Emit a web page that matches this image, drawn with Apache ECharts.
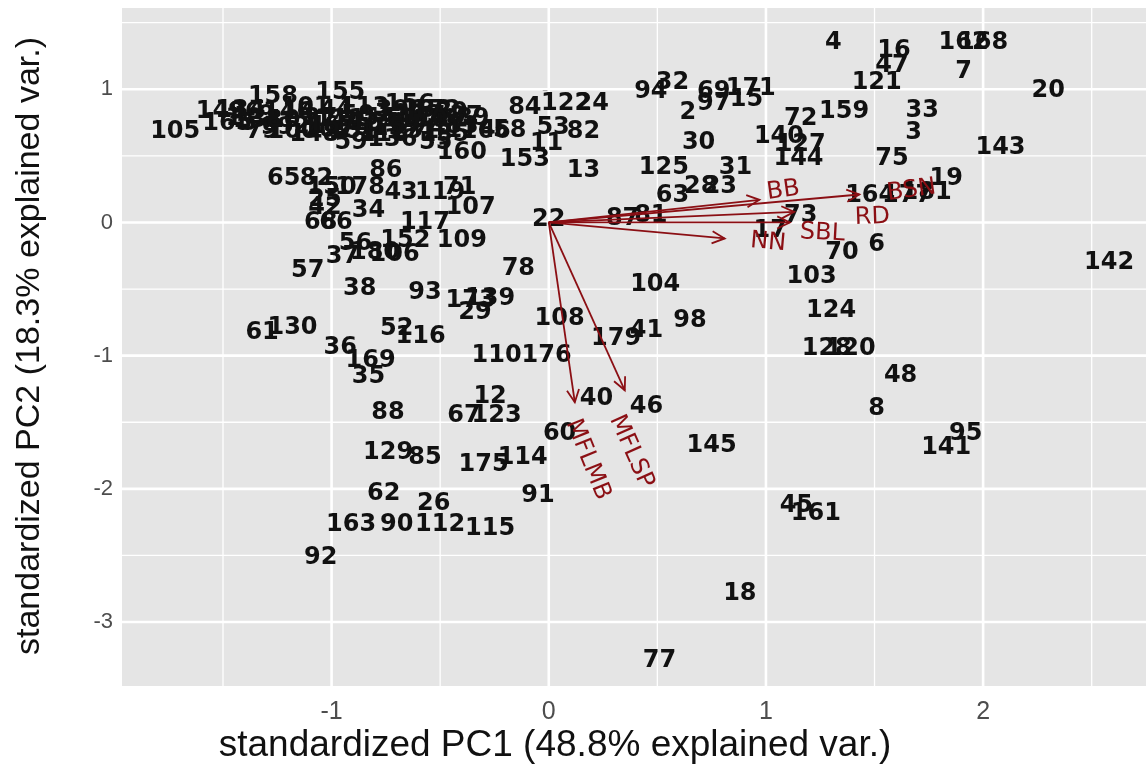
<!DOCTYPE html>
<html>
<head>
<meta charset="utf-8">
<script src="https://cdn.jsdelivr.net/npm/echarts@6/dist/echarts.min.js"></script>
<style>html,body{margin:0;padding:0;background:#fff}#c{width:1146px;height:765px}</style>
</head>
<body>
<div id="c"></div>
<script>
// observation labels and scores
const obsLabels = [
 "158","155","105","149","134","79","59","136","55","160","166","58","84","122","24","53","82","11","153","13",
 "1","5","9","10","14","21","27","44","49","50","51","54","39","64","133","74","76","80","83","89",
 "96","99","100","101","102","111","113","118","126","131","132","135","137","138","146","148","151","154","156","157",
 "165","167","170","172","174",
 "65","82","86","150","178","43","119","71","107","25","42","34","68","66","117","56","152","109","37","106","180",
 "57","38","93","173","29","139","78","104","108","179","41","98","110","176","12","67","123","40","46","60","145",
 "114","175","129","85","91","62","26","163","90","112","115","92","18","77","45","161","141","95","8","48","128","120",
 "124","103","70","6","142","61","130","36","169","35","52","116","88",
 "22","87","81","63","28","23","31","73","17","164","177","181",
 "94","32","69","171","2","97","15","30","125",
 "4","16","47","121","162","168","7","20","159","72","33","3","143","75","19","140","127","144"
];
const pc1 = [
 -1.27,-0.96,-1.72,-1.51,-1.42,-1.32,-0.91,-0.72,-0.52,-0.40,-0.29,-0.18,-0.11,0.08,0.20,0.02,0.16,-0.01,-0.11,0.16,
 -1.45,-1.38,-1.30,-1.22,-1.15,-1.10,-1.05,-0.98,-0.93,-0.88,-0.82,-0.78,-0.72,-0.66,-0.60,-0.55,-0.50,-0.45,-0.40,-0.35,
 -1.40,-1.25,-1.18,-1.12,-1.02,-0.96,-0.85,-0.76,-0.68,-0.62,-0.56,-0.48,-0.42,-1.34,-1.20,-1.08,-0.90,-0.80,-0.64,-0.70,
 -1.48,-1.00,-0.58,-0.52,-0.36,
 -1.22,-1.07,-0.75,-1.00,-0.87,-0.68,-0.50,-0.41,-0.36,-1.03,-1.03,-0.83,-1.05,-0.98,-0.57,-0.89,-0.66,-0.40,-0.95,-0.71,-0.80,
 -1.11,-0.87,-0.57,-0.36,-0.34,-0.27,-0.14,0.49,0.05,0.31,0.45,0.65,-0.24,-0.01,-0.27,-0.39,-0.24,0.22,0.45,0.05,0.75,
 -0.12,-0.30,-0.74,-0.57,-0.05,-0.76,-0.53,-0.91,-0.70,-0.50,-0.27,-1.05,0.88,0.51,1.14,1.23,1.83,1.92,1.51,1.62,1.28,1.39,
 1.30,1.21,1.35,1.51,2.58,-1.32,-1.18,-0.96,-0.82,-0.83,-0.70,-0.59,-0.74,
 0.00,0.34,0.47,0.57,0.70,0.79,0.86,1.16,1.02,1.48,1.65,1.74,
 0.47,0.57,0.76,0.93,0.64,0.76,0.91,0.69,0.53,
 1.31,1.59,1.58,1.51,1.91,2.00,1.91,2.30,1.36,1.16,1.72,1.68,2.08,1.58,1.83,1.06,1.16,1.15
];
const pc2 = [
 0.94,0.97,0.68,0.83,0.84,0.68,0.60,0.62,0.60,0.52,0.68,0.69,0.86,0.89,0.89,0.71,0.68,0.59,0.47,0.39,
 0.78,0.74,0.80,0.76,0.82,0.72,0.78,0.84,0.74,0.80,0.70,0.78,0.84,0.74,0.80,0.70,0.77,0.82,0.72,0.78,
 0.82,0.71,0.68,0.86,0.69,0.77,0.86,0.66,0.81,0.68,0.84,0.66,0.79,0.76,0.82,0.66,0.68,0.74,0.88,0.70,
 0.74,0.72,0.76,0.84,0.69,
 0.33,0.33,0.39,0.26,0.26,0.22,0.22,0.26,0.11,0.17,0.11,0.09,0.00,0.00,0.00,-0.16,-0.14,-0.14,-0.26,-0.24,-0.23,
 -0.36,-0.50,-0.53,-0.59,-0.68,-0.57,-0.35,-0.47,-0.72,-0.87,-0.81,-0.74,-1.00,-1.00,-1.31,-1.45,-1.45,-1.32,-1.38,-1.59,-1.68,
 -1.77,-1.82,-1.73,-1.77,-2.05,-2.04,-2.11,-2.27,-2.27,-2.27,-2.30,-2.52,-2.79,-3.29,-2.13,-2.19,-1.69,-1.59,-1.40,-1.15,-0.95,-0.95,
 -0.66,-0.41,-0.23,-0.17,-0.30,-0.83,-0.79,-0.94,-1.04,-1.16,-0.80,-0.86,-1.43,
 0.02,0.03,0.05,0.20,0.27,0.27,0.41,0.05,-0.06,0.20,0.20,0.22,
 0.98,1.05,0.98,1.00,0.82,0.89,0.92,0.60,0.41,
 1.35,1.29,1.18,1.05,1.35,1.35,1.13,0.99,0.83,0.78,0.84,0.67,0.56,0.48,0.33,0.64,0.58,0.48
];

// variable loadings (arrows) and where their names sit
const varNames = ["BB","BSN","RD","SBL","NN","MFLMB","MFLSP"];
const varPC1 = [0.97, 1.43, 1.13, 1.11, 0.81, 0.12, 0.35];
const varPC2 = [0.17, 0.21, 0.08, 0.00, -0.12, -1.35, -1.26];
const varLabelPC1 = [1.08, 1.67, 1.49, 1.26, 1.01, 0.18, 0.38];
const varLabelPC2 = [0.24, 0.24, 0.04, -0.08, -0.15, -1.78, -1.72];
const varLabelAngle = [8, 8, 2, -3, -5, -68, -66];

const xTicks = [-1, 0, 1, 2];
const yTicks = [-3, -2, -1, 0, 1];
const xMinor = [-1.5, -0.5, 0.5, 1.5, 2.5];
const yMinor = [-2.5, -1.5, -0.5, 0.5, 1.5];

const RED = '#8b0f14';
const chart = echarts.init(document.getElementById('c'), null, {renderer: 'canvas'});

// grid line records: [value, isVertical(1/0), isMajor(1/0)]
const gridRecs = [];
xMinor.forEach(v => gridRecs.push([v, 1, 0]));
yMinor.forEach(v => gridRecs.push([v, 0, 0]));
xTicks.forEach(v => gridRecs.push([v, 1, 1]));
yTicks.forEach(v => gridRecs.push([v, 0, 1]));

const pts = obsLabels.map((l, i) => [pc1[i], pc2[i], l]);
const arrows = varNames.map((n, i) => [varPC1[i], varPC2[i], n]);
const varLbls = varNames.map((n, i) => [varLabelPC1[i], varLabelPC2[i], varLabelAngle[i], n]);

function renderGrid(params, api) {
  const cs = params.coordSys;
  const v = api.value(0), vert = api.value(1), major = api.value(2);
  const w = major ? 2.6 : 1.3;
  if (vert) {
    const p = api.coord([v, 0]);
    return {type: 'line', shape: {x1: p[0], y1: cs.y, x2: p[0], y2: cs.y + cs.height}, style: {stroke: '#ffffff', lineWidth: w}};
  }
  const p = api.coord([0, v]);
  return {type: 'line', shape: {x1: cs.x, y1: p[1], x2: cs.x + cs.width, y2: p[1]}, style: {stroke: '#ffffff', lineWidth: w}};
}

function renderArrow(params, api) {
  const o = api.coord([0, 0]);
  const t = api.coord([api.value(0), api.value(1)]);
  const ang = Math.atan2(t[1] - o[1], t[0] - o[0]);
  const L = 14, a = Math.PI / 7;
  const h1 = [t[0] - L * Math.cos(ang - a), t[1] - L * Math.sin(ang - a)];
  const h2 = [t[0] - L * Math.cos(ang + a), t[1] - L * Math.sin(ang + a)];
  return {type: 'group', children: [
    {type: 'line', shape: {x1: o[0], y1: o[1], x2: t[0], y2: t[1]}, style: {stroke: RED, lineWidth: 1.8}},
    {type: 'polyline', shape: {points: [h1, t, h2]}, style: {stroke: RED, lineWidth: 1.8, fill: null}}
  ]};
}

function renderObs(params, api) {
  const p = api.coord([api.value(0), api.value(1)]);
  return {type: 'text', x: p[0], y: p[1], style: {
    text: String(pts[params.dataIndex][2]), fill: '#111111', align: 'center', verticalAlign: 'middle',
    font: 'bold 24px "DejaVu Sans"'}};
}

function renderVarLabel(params, api) {
  const p = api.coord([api.value(0), api.value(1)]);
  const rot = api.value(2) * Math.PI / 180;
  return {type: 'text', x: p[0], y: p[1], rotation: rot, style: {
    text: String(varLbls[params.dataIndex][3]), fill: RED, align: 'center', verticalAlign: 'middle',
    font: '24px "DejaVu Sans"'}};
}

chart.setOption({
  animation: false,
  backgroundColor: '#ffffff',
  grid: {left: 122, right: 0, top: 8, bottom: 79, show: true, backgroundColor: '#e5e5e5', borderWidth: 0},
  xAxis: {
    type: 'value', min: -1.965, max: 2.75,
    splitLine: {show: false}, axisLine: {show: false},
    axisTick: {show: true, customValues: xTicks, length: 6, lineStyle: {color: '#333', width: 1.5}},
    axisLabel: {customValues: xTicks, fontSize: 25, color: '#4d4d4d', margin: 14, fontFamily: 'Liberation Sans'}
  },
  yAxis: {
    type: 'value', min: -3.48, max: 1.61,
    splitLine: {show: false}, axisLine: {show: false},
    axisTick: {show: true, customValues: yTicks, length: 6, lineStyle: {color: '#333', width: 1.5}},
    axisLabel: {customValues: yTicks, fontSize: 22, color: '#4d4d4d', margin: 9, fontFamily: 'Liberation Sans'}
  },
  graphic: [
    {type: 'text', silent: true, x: 555, y: 746,
     style: {text: 'standardized PC1 (48.8% explained var.)', textAlign: 'center', textVerticalAlign: 'middle', fontSize: 37, fill: '#111', fontFamily: 'Liberation Sans'}},
    {type: 'text', silent: true, rotation: Math.PI / 2, x: 30, y: 346,
     style: {text: 'standardized PC2 (18.3% explained var.)', textAlign: 'center', textVerticalAlign: 'middle', fontSize: 34, fill: '#111', fontFamily: 'Liberation Sans'}}
  ],
  series: [
    {type: 'custom', z: 1, silent: true, clip: true, data: gridRecs, renderItem: renderGrid},
    {type: 'custom', z: 3, silent: true, data: pts, renderItem: renderObs},
    {type: 'custom', z: 4, silent: true, data: arrows, renderItem: renderArrow},
    {type: 'custom', z: 5, silent: true, data: varLbls, renderItem: renderVarLabel}
  ]
});
</script>
</body>
</html>
